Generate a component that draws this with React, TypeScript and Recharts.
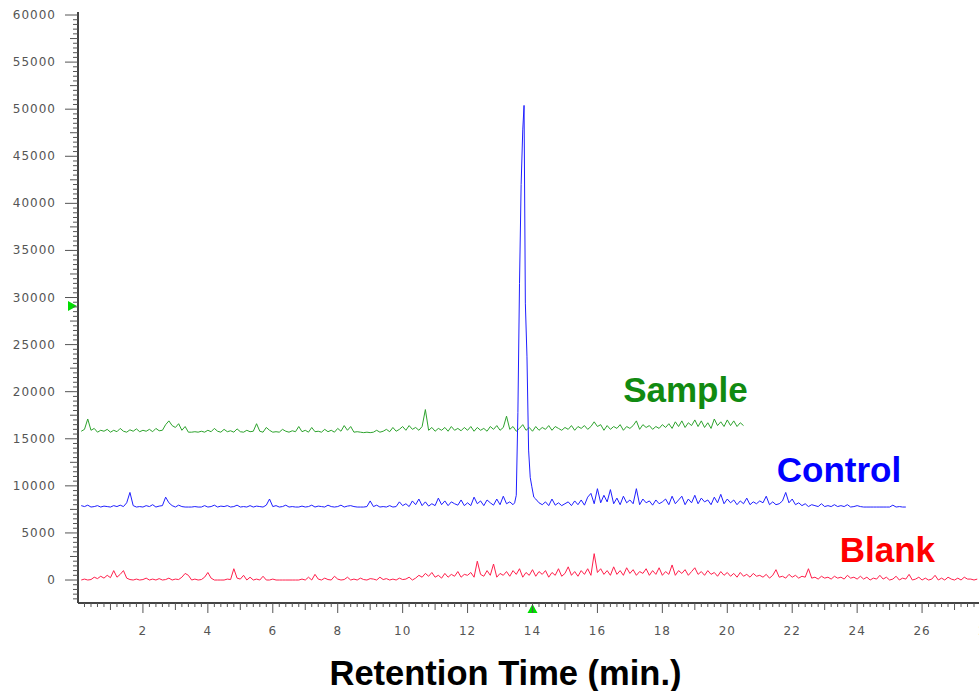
import React from "react";
import { LineChart, Line, XAxis, YAxis, ReferenceDot } from "recharts";

// sampling step of the traces (min)
const STEP = 0.1;

// Sample trace, 0.1 .. 20.5 min
const sampleValues = [
  15800, 16000, 17100, 15900, 16100, 15700, 15900, 15800, 16000, 15700,
  15900, 15750, 16100, 15800, 15700, 15950, 15800, 16050, 15750, 15900,
  15800, 16000, 15750, 16100, 15850, 15900, 16500, 16900, 16400, 16200,
  16600, 15900, 16300, 15700, 15700, 15750, 15700, 15800, 15700, 15900,
  15750, 16100, 15800, 15700, 16000, 15750, 15850, 15700, 16050, 15750,
  15700, 15900, 15750, 15800, 16600, 15800, 15700, 16200, 15900, 15700,
  15750, 15700, 16000, 15800, 15700, 15850, 15750, 16300, 15750, 15900,
  15700, 16200, 15750, 15800, 15700, 16000, 15750, 15900, 15700, 16100,
  15800, 16400, 15900, 16300, 15700, 15750, 15700, 15650, 15700, 15650,
  15700, 15900, 15700, 15800, 16000, 15750, 16200, 15800, 16000, 16300,
  15900, 16400, 16000, 16200, 15900, 16300, 18100, 15900, 16200, 15800,
  16100, 15900, 16200, 15800, 16300, 15900, 16100, 15850, 16200, 15900,
  16300, 15800, 16200, 15900, 16100, 15800, 16300, 16000, 16400, 15900,
  16200, 17400, 16000, 16300, 15800, 16100, 16500, 15900, 16200, 15800,
  16300, 15900, 16200, 16000, 16400, 15900, 16300, 16100, 15900, 16200,
  16000, 16400, 15900, 16300, 16100, 16400, 16000, 16300, 16800, 16300,
  16500, 15900, 16400, 16000, 16300, 16100, 16500, 15900, 16300, 16100,
  16400, 16900, 16000, 16500, 16200, 16400, 16000, 16300, 16100, 16500,
  16200, 16600, 16100, 16800, 16300, 16900, 16200, 16700, 16400, 17000,
  16300, 16900, 16200, 16700, 16100, 17100, 16400, 16800, 16300, 17000,
  16400, 16900, 16300, 16700, 16400,
];

// Control trace, 0.1 .. 13.4 min
const controlBefore = [
  7900, 7800, 7950, 7750, 7800, 7900, 7750, 7850, 7800, 7750,
  7900, 7800, 7950, 7800, 8200, 9300, 7900, 7750, 7800, 7750,
  7900, 7800, 8000, 7750, 7850, 7900, 8800, 8200, 7900, 7750,
  7950, 7800, 7750, 7750, 7750, 7800, 7750, 7750, 7900, 7750,
  7800, 7950, 7750, 7850, 7800, 7900, 7750, 7800, 7950, 7750,
  7800, 7750, 7900, 7750, 7850, 7800, 7750, 7950, 8600, 7800,
  7900, 7750, 7800, 7950, 7750, 7800, 7750, 7750, 7850, 7750,
  7800, 7950, 7750, 7850, 7800, 7750, 7950, 7800, 7750, 7800,
  7950, 7750, 7850, 7900, 7800, 7750, 7750, 7750, 7800, 8400,
  7800, 7950, 7750, 7800, 7750, 7900, 7750, 7800, 8300, 7900,
  8100, 7800, 8400, 8000, 8600, 7900, 8300, 7850, 8100, 7900,
  8700, 8000, 8400, 7900, 8300, 8100, 7950, 8500, 7900, 8200,
  7900, 8800, 8100, 8400, 7900, 8500, 8200, 7950, 8600, 8000,
  8900, 8100, 8300, 8000,
];

// Control peak, [min, counts]
const controlPeak = [
  [13.45, 8200], [13.5, 9000], [13.55, 17800], [13.6, 31500], [13.65, 42000],
  [13.7, 47800], [13.74, 50400], [13.78, 29400], [13.83, 23700], [13.88, 13800],
  [13.93, 10900], [13.98, 9900], [14.04, 8800],
];

// Control trace, 14.1 .. 25.5 min
const controlAfter = [
  8600, 8200, 8000, 8300, 7900, 8600, 7950, 8200, 7900, 8100,
  8300, 7900, 8400, 8000, 8500, 7950, 8800, 9200, 8100, 9700,
  8200, 9000, 8300, 9600, 8100, 8700, 8000, 8900, 8200, 8500,
  8100, 9700, 8000, 8600, 8200, 8400, 7950, 8500, 8100, 8300,
  8600, 8000, 8900, 8100, 8500, 8900, 8000, 8600, 8200, 9000,
  8100, 8700, 8300, 8500, 8000, 8800, 8200, 9100, 8100, 8600,
  8200, 8500, 8000, 8400, 8100, 8700, 8000, 8300, 8100, 8400,
  8200, 8900, 8000, 8300, 8000, 8100, 8400, 9300, 8200, 8600,
  8000, 8200, 7900, 8100, 7800, 8000, 7900, 7800, 8100, 7800,
  7900, 7800, 8000, 7800, 7900, 7800, 8000, 7750, 7800, 7900,
  7800, 7750, 7750, 7750, 7750, 7750, 7750, 7750, 7750, 7750,
  7950, 7750, 7800, 7750, 7750,
];

// Blank trace, 0.1 .. 27.7 min
const blankValues = [
  0, 100, 0, 50, 300, 150, 400, 200, 500, 250,
  1000, 300, 600, 1000, 200, 50, 0, 100, 0, 50,
  200, 0, 100, 0, 150, 0, 50, 200, 0, 100,
  50, 300, 700, 500, 0, 100, 0, 50, 300, 800,
  200, 0, 0, 0, 0, 100, 50, 1200, 200, 100,
  500, 0, 300, 0, 100, 0, 400, 0, 0, 100,
  0, 0, 0, 0, 0, 0, 0, 0, 100, 0,
  300, 0, 600, 100, 0, 200, 50, 0, 400, 100,
  0, 50, 300, 0, 100, 0, 200, 50, 0, 150,
  100, 0, 300, 50, 150, 0, 100, 0, 200, 50,
  100, 300, 0, 200, 500, 300, 700, 400, 800, 300,
  500, 200, 700, 300, 600, 400, 900, 300, 600, 500,
  800, 300, 2000, 600, 400, 1000, 500, 1700, 300, 700,
  500, 900, 400, 1000, 600, 1200, 300, 800, 500, 1100,
  400, 900, 600, 1000, 300, 800, 500, 1200, 400, 700,
  1400, 500, 900, 400, 1000, 600, 1200, 500, 2800, 800,
  1200, 600, 1000, 500, 1400, 600, 1000, 500, 1300, 700,
  1100, 500, 900, 700, 1200, 500, 1000, 600, 1300, 500,
  900, 600, 1600, 500, 1000, 700, 1100, 500, 900, 1300,
  600, 900, 500, 1000, 600, 800, 400, 900, 500, 800,
  400, 700, 300, 800, 400, 600, 300, 700, 400, 500,
  300, 600, 200, 500, 1100, 300, 400, 200, 600, 300,
  500, 200, 400, 300, 1200, 200, 300, 100, 400, 200,
  300, 100, 400, 200, 300, 100, 500, 200, 300, 100,
  400, 100, 300, 0, 200, 100, 500, 100, 300, 0,
  100, 400, 0, 200, 100, 600, 0, 100, 300, 0,
  200, 0, 100, 500, 0, 200, 0, 300, 100, 0,
  200, 0, 300, 100, 100, 0, 100,
];

const yLabels = [0, 5000, 10000, 15000, 20000, 25000, 30000, 35000, 40000, 45000, 50000, 55000, 60000];
const xLabels = [2, 4, 6, 8, 10, 12, 14, 16, 18, 20, 22, 24, 26, 28];

const toSeries = (start: number, values: number[]) =>
  values.map((v, i) => ({ t: +(start + i * STEP).toFixed(2), v }));

const sampleData = toSeries(0.1, sampleValues);
const controlData = [
  ...toSeries(0.1, controlBefore),
  ...controlPeak.map(([t, v]) => ({ t, v })),
  ...toSeries(14.1, controlAfter),
];
const blankData = toSeries(0.1, blankValues);

// minor tick grids
const yTicks = Array.from({ length: 125 }, (_, i) => -2000 + i * 500);
const xTicks = Array.from({ length: 140 }, (_, i) => +((i + 1) * 0.2).toFixed(1));

const AXIS = "#444";
const TICK = "#555";
const labelFont = "'DejaVu Sans', Verdana, sans-serif";
const boldFont = "'Liberation Sans', Arial, sans-serif";

const YTick = (props: any) => {
  const { x, y, payload } = props;
  const v = payload.value;
  const major = yLabels.includes(v);
  const len = major ? 13 : v % 2500 === 0 ? 8 : 5;
  return (
    <g>
      <line x1={x - len} x2={x} y1={y} y2={y} stroke={TICK} />
      {major && (
        <text x={x - 22} y={y + 4} textAnchor="end" fontSize={12} fill="#555"
          fontFamily={labelFont} letterSpacing={1}>
          {v}
        </text>
      )}
    </g>
  );
};

const XTick = (props: any) => {
  const { x, y, payload } = props;
  const v = payload.value;
  const r = Math.round(v);
  const isInt = Math.abs(v - r) < 1e-6;
  const major = isInt && xLabels.includes(r);
  const len = major ? 10 : isInt ? 7 : 4;
  return (
    <g>
      <line x1={x} x2={x} y1={y} y2={y + len} stroke={TICK} />
      {major && (
        <text x={x} y={y + 32} textAnchor="middle" fontSize={12} fill="#555"
          fontFamily={labelFont} letterSpacing={1}>
          {r}
        </text>
      )}
    </g>
  );
};

const arrowRight = (props: any) => {
  const { cx, cy } = props;
  return <polygon points={`${cx - 10},${cy - 5} ${cx - 10},${cy + 5} ${cx - 1},${cy}`} fill="#00dd00" />;
};

const arrowUp = (props: any) => {
  const { cx, cy } = props;
  return <polygon points={`${cx - 5},${cy + 10} ${cx + 5},${cy + 10} ${cx},${cy + 1}`} fill="#00dd00" />;
};

const seriesLabel = (value: string, fill: string) => ({
  value,
  position: "center" as const,
  fill,
  fontSize: 35,
  fontWeight: 700,
  fontFamily: boldFont,
});

export default function App() {
  return (
    <div
      style={{
        position: "absolute",
        left: 0,
        top: 0,
        width: 979,
        height: 691,
        overflow: "hidden",
        background: "#fff",
      }}
    >
      <LineChart width={1000} height={691} margin={{ top: 12, right: 13, bottom: 0, left: 0 }}>
        <XAxis
          dataKey="t"
          type="number"
          domain={[0, 28]}
          ticks={xTicks}
          interval={0}
          tick={XTick}
          tickLine={false}
          tickSize={0}
          tickMargin={0}
          height={88}
          axisLine={{ stroke: AXIS, strokeWidth: 2 }}
          allowDataOverflow
          label={{
            value: "Retention Time (min.)",
            position: "insideBottom",
            offset: 6,
            dx: -27,
            fill: "#000",
            fontSize: 34.5,
            fontWeight: 700,
            fontFamily: boldFont,
          }}
        />
        <YAxis
          type="number"
          domain={[-2440, 60320]}
          ticks={yTicks}
          interval={0}
          tick={YTick}
          tickLine={false}
          tickSize={0}
          tickMargin={0}
          width={78}
          axisLine={{ stroke: AXIS, strokeWidth: 2 }}
          allowDataOverflow
        />
        <Line data={blankData} dataKey="v" type="linear" stroke="#ff1f4b" strokeWidth={1}
          dot={false} isAnimationActive={false} />
        <Line data={sampleData} dataKey="v" type="linear" stroke="#2ea32e" strokeWidth={1}
          dot={false} isAnimationActive={false} />
        <Line data={controlData} dataKey="v" type="linear" stroke="#1f1fff" strokeWidth={1}
          dot={false} isAnimationActive={false} />
        <ReferenceDot x={18.71} y={20180} r={0} ifOverflow="visible" label={seriesLabel("Sample", "#118a11")} />
        <ReferenceDot x={23.44} y={11680} r={0} ifOverflow="visible" label={seriesLabel("Control", "#0000ff")} />
        <ReferenceDot x={24.93} y={3190} r={0} ifOverflow="visible" label={seriesLabel("Blank", "#ff0000")} />
        <ReferenceDot x={0} y={29100} r={0} ifOverflow="visible" shape={arrowRight} />
        <ReferenceDot x={14} y={-2440} r={0} ifOverflow="visible" shape={arrowUp} />
      </LineChart>
    </div>
  );
}
